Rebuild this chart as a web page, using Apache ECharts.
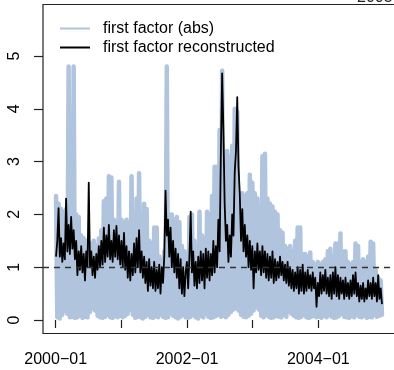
<!DOCTYPE html>
<html>
<head>
<meta charset="utf-8">
<script src="https://cdn.jsdelivr.net/npm/echarts@6/dist/echarts.min.js"></script>
<style>
  html, body { margin: 0; padding: 0; background: #fff; overflow: hidden; }
  /* a little wider than the window: the plot box runs past the right edge */
  #chart { width: 400px; height: 370px; }
</style>
</head>
<body>
<div id="chart"></div>
<script>
// weekly observations starting 2000-01-03
// |first factor|: peaks and troughs alternate week by week (one row per year)
var absPeaks = [
  2.35, 2.2, 2.1, 2.05, 2.1, 4.8, 1.2, 4.8, 2.0, 1.95, 1.6, 1.55, 1.5, 1.45, 1.45, 1.5, 1.4, 1.55, 1.7, 2.25, 2.3, 2.72, 2.7, 1.9, 1.85, 2.62,
  1.9, 1.85, 1.9, 1.8, 2.72, 1.9, 2.3, 2.78, 2.0, 2.2, 2.1, 1.5, 1.45, 1.75, 1.75, 1.2, 1.15, 1.3, 4.8, 2.0, 2.0, 1.9, 1.95, 1.85, 1.4, 1.3,
  1.25, 1.95, 2.0, 1.5, 1.4, 2.05, 1.6, 1.55, 2.05, 2.0, 2.35, 2.9, 2.9, 3.6, 4.72, 3.0, 3.2, 3.1, 3.3, 4.0, 3.95, 2.4, 2.4, 2.35, 2.4, 2.75,
  2.6, 2.4, 2.3, 2.0, 3.1, 3.15, 2.3, 2.2, 2.15, 2.05, 2.0, 1.7, 1.65, 1.4, 1.35, 1.4, 1.3, 1.5, 1.75, 1.75, 1.25, 1.25, 1.2, 1.28, 1.1, 1.05,
  1.1, 1.05, 1.1, 1.15, 1.3, 1.35, 1.2, 1.45, 1.45, 1.64, 1.3, 1.3, 1.1, 1.05, 1.1, 1.45, 1.4, 1.1, 1.15, 1.1, 1.2, 1.48, 1.45, 0.95, 0.8, 0.75
];
var absTroughs = [
  0.05, 0.03, 0.1, 0.18, 0.12, 0.05, 0.06, 0.04, 0.05, 0.08, 0.04, 0.06, 0.05, 0.15, 0.22, 0.18, 0.08, 0.05, 0.04, 0.06, 0.1, 0.05, 0.04, 0.07, 0.05, 0.08,
  0.05, 0.08, 0.12, 0.2, 0.1, 0.04, 0.06, 0.05, 0.03, 0.06, 0.1, 0.05, 0.04, 0.07, 0.05, 0.1, 0.06, 0.04, 0.05, 0.12, 0.08, 0.05, 0.03, 0.06, 0.1, 0.05,
  0.04, 0.06, 0.1, 0.05, 0.03, 0.08, 0.05, 0.12, 0.06, 0.04, 0.05, 0.07, 0.1, 0.06, 0.08, 0.05, 0.1, 0.15, 0.2, 0.22, 0.18, 0.1, 0.06, 0.05, 0.08, 0.12,
  0.18, 0.25, 0.2, 0.08, 0.05, 0.1, 0.06, 0.04, 0.05, 0.08, 0.06, 0.05, 0.1, 0.06, 0.15, 0.12, 0.08, 0.05, 0.04, 0.06, 0.1, 0.05, 0.04, 0.06, 0.08, 0.05,
  0.06, 0.04, 0.08, 0.05, 0.1, 0.06, 0.04, 0.05, 0.08, 0.12, 0.06, 0.05, 0.04, 0.07, 0.05, 0.1, 0.06, 0.05, 0.08, 0.04, 0.06, 0.05, 0.1, 0.06, 0.08, 0.1
];
// reconstructed first factor, one value per week
var recon = [
  1.2, 1.5, 2.12, 1.2, 1.55, 1.1, 1.45, 1.15, 2.3, 1.3, 1.8, 1.25, 1.95, 1.35, 1.7, 1.15, 1.5, 0.85, 1.3, 0.95, 1.4, 0.9, 1.25, 0.75, 1.3, 1.0,
  2.6, 1.0, 1.3, 0.85, 1.2, 0.8, 1.25, 0.95, 1.4, 1.0, 1.5, 1.05, 1.75, 1.1, 1.6, 1.2, 1.8, 1.15, 1.5, 1.1, 1.7, 1.2, 1.78, 1.15, 1.6, 1.05,
  1.5, 1.0, 1.65, 0.95, 1.4, 0.8, 1.3, 0.75, 1.25, 0.85, 1.45, 0.9, 1.55, 1.0, 1.7, 0.9, 1.3, 0.8, 1.2, 0.7, 1.1, 0.55, 1.15, 0.65, 1.0, 0.6,
  1.1, 0.55, 0.95, 0.6, 1.05, 0.5, 1.0, 0.7, 1.2, 2.45, 1.6, 1.9, 1.2, 1.75, 1.0, 1.5, 0.9, 1.35, 0.8, 1.25, 0.6, 1.15, 0.5, 1.0, 0.45, 0.9,
  1.1, 0.6, 1.2, 2.05, 0.9, 1.3, 0.65, 1.1, 0.6, 1.2, 0.7, 1.3, 0.75, 1.25, 0.6, 1.35, 0.8, 1.3, 0.75, 1.25, 0.85, 1.5, 0.9, 1.4, 1.0, 1.9,
  1.3, 3.2, 4.67, 3.6, 2.2, 1.5, 1.8, 1.1, 1.6, 1.2, 2.0, 1.6, 2.8, 3.2, 4.22, 2.9, 2.4, 1.5, 2.1, 1.3, 1.8, 1.2, 1.6, 1.0, 1.5, 0.95,
  1.4, 0.6, 1.3, 0.9, 1.45, 0.95, 1.3, 0.85, 1.4, 0.9, 1.3, 0.8, 1.25, 0.75, 1.2, 0.8, 1.3, 0.7, 1.15, 0.75, 1.1, 0.8, 1.2, 0.85, 1.1, 0.75,
  1.05, 0.7, 1.1, 0.65, 1.0, 0.6, 0.95, 0.55, 0.9, 0.6, 1.0, 0.5, 0.95, 0.55, 1.05, 0.5, 0.9, 0.55, 0.95, 0.6, 0.85, 0.55, 0.9, 0.6, 0.8, 0.25,
  0.7, 0.45, 0.9, 0.5, 0.85, 0.55, 0.95, 0.5, 0.8, 0.45, 0.85, 0.4, 0.9, 0.5, 1.0, 0.45, 0.85, 0.4, 0.8, 0.5, 0.75, 0.4, 0.8, 0.45, 0.7, 0.4,
  0.75, 0.45, 0.85, 0.5, 0.9, 0.45, 0.7, 0.35, 0.65, 0.4, 0.7, 0.35, 0.6, 0.4, 0.75, 0.45, 0.7, 0.4, 0.8, 0.45, 0.7, 0.35, 0.85, 0.4, 0.6, 0.3
];
var tickYears = [2000, 2001, 2002, 2003, 2004];
var labelYears = [2000, 2002, 2004];
var yTicks = [0, 1, 2, 3, 4, 5];

var DAY = 86400000;
var start = Date.UTC(2000, 0, 3);
var absData = [];
absPeaks.forEach(function (p, k) {
  absData.push([start + 2 * k * 7 * DAY, p]);
  absData.push([start + (2 * k + 1) * 7 * DAY, absTroughs[k]]);
});
var reconData = recon.map(function (v, i) { return [start + i * 7 * DAY, v]; });
var end = start + (recon.length - 1) * 7 * DAY;
var pad = (end - start) * 0.04;
var jan = function (y) { return Date.UTC(y, 0, 1); };

var chart = echarts.init(document.getElementById('chart'));
chart.setOption({
  animation: false,
  backgroundColor: '#fff',
  textStyle: { fontFamily: 'Liberation Sans, Arial, sans-serif' },
  title: {
    text: '2005',
    left: 352,
    top: -15,
    textStyle: { fontSize: 16, fontWeight: 'normal', color: '#222' }
  },
  legend: {
    orient: 'vertical',
    left: 60,
    top: 19,
    padding: 0,
    itemGap: 0,
    itemWidth: 30,
    itemHeight: 2,
    icon: 'rect',
    textStyle: { fontSize: 16, lineHeight: 19, color: '#000', padding: [0, 0, 0, 8] },
    data: ['first factor (abs)', 'first factor reconstructed']
  },
  grid: {
    left: 43,
    top: 4.5,
    width: 352,
    height: 329,
    show: true,
    borderColor: '#222',
    borderWidth: 1.2,
    backgroundColor: 'transparent'
  },
  xAxis: {
    type: 'value',
    min: start - pad,
    max: end + pad,
    axisLine: { show: false },
    splitLine: { show: false },
    axisTick: {
      length: 8,
      lineStyle: { color: '#222', width: 1.2 },
      customValues: tickYears.map(jan)
    },
    axisLabel: {
      fontSize: 16,
      color: '#000',
      margin: 18,
      customValues: labelYears.map(jan),
      formatter: function (v) { return new Date(v).getUTCFullYear() + '\u221201'; }
    }
  },
  yAxis: {
    type: 'value',
    min: -0.256,
    max: 5.975,
    axisLine: { show: false },
    splitLine: { show: false },
    axisTick: {
      length: 9,
      lineStyle: { color: '#222', width: 1.2 },
      customValues: yTicks
    },
    axisLabel: {
      fontSize: 16,
      color: '#000',
      rotate: 90,
      margin: 20,
      customValues: yTicks
    }
  },
  series: [
    {
      name: 'first factor (abs)',
      type: 'line',
      data: absData,
      symbol: 'none',
      z: 2,
      color: '#b0c4de',
      lineStyle: { color: '#b0c4de', width: 4.5, cap: 'round', join: 'round' }
    },
    {
      name: 'first factor reconstructed',
      type: 'line',
      data: reconData,
      symbol: 'none',
      z: 3,
      color: '#000',
      lineStyle: { color: '#000', width: 1.8, join: 'round' },
      markLine: {
        silent: true,
        symbol: 'none',
        label: { show: false },
        lineStyle: { color: '#333', type: [6, 5], width: 1.3 },
        data: [{ yAxis: 1 }]
      }
    }
  ]
});
</script>
</body>
</html>
